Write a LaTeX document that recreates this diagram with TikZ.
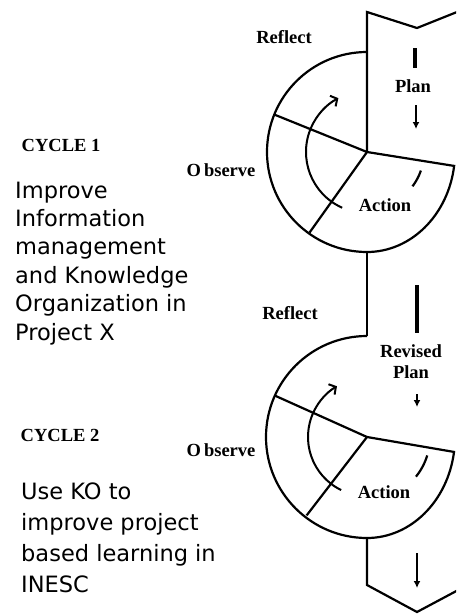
\documentclass[tikz,border=0pt]{standalone}
\usepackage{fontspec}
\setmainfont{Liberation Serif}
\newfontfamily\goalfont{DejaVu Sans}
\usetikzlibrary{arrows.meta}

\begin{document}
\begin{tikzpicture}[
    x=1pt, y=1pt,
    line/.style={line width=2.2pt, black},
    bar/.style={line width=3.2pt, black},
    arrow/.style={-{Latex[length=7pt, width=7pt]}, line width=2.2pt},
    turn/.style={-{Straight Barb[length=5pt, width=12pt]}, line width=2pt},
    tag/.style={font=\fontsize{18.5}{21}\selectfont\bfseries, inner sep=0pt, align=center},
    goal/.style={font=\goalfont\fontsize{22.5}{28.4}\selectfont, align=left, anchor=north west, inner sep=0pt},
]
    \useasboundingbox (0,0) rectangle (456,-614);
    \clip (0,0) rectangle (456,-614);

    % band and its two ends
    \coordinate (c1) at (367,-152);
    \coordinate (c2) at (367,-437);
    \coordinate (top) at (367,-12);
    \coordinate (notch1) at (417,-28);
    \coordinate (topr) at (462,-10);
    \coordinate (foot) at (367,-585);
    \coordinate (notch2) at (417,-612);
    \coordinate (footr) at (462,-588);

    \draw[line] (topr) -- (notch1) -- (top) -- (c1);
    \draw[line] (c2) ++(270:101) -- (foot) -- (notch2) -- (footr);

    % cycle 1
    \draw[line] (c1) ++(90:100) arc[start angle=90, end angle=270, radius=100]
        arc[start angle=270, end angle=352, x radius=88, y radius=100] -- (c1);
    \draw[line] (c1) -- ++(158:100);
    \draw[line] (c1) -- ++(234.5:99);
    \draw[turn] (c1) ++(246:61) arc[start angle=246, end angle=118, radius=61];
    \draw[line] (c1) ++(-37:57) arc[start angle=-37, end angle=-19, radius=57];
    \draw[line] (c1) ++(270:100) -- ([shift={(90:101)}]c2);

    % cycle 2
    \draw[line] (c2) ++(90:101) arc[start angle=90, end angle=270, radius=101]
        arc[start angle=270, end angle=351.5, x radius=88, y radius=101] -- (c2);
    \draw[line] (c2) -- ++(155.8:101);
    \draw[line] (c2) -- ++(232.4:99);
    \draw[turn] (c2) ++(244:59) arc[start angle=244, end angle=120.6, radius=59];
    \draw[line] (c2) ++(-39:63) arc[start angle=-39, end angle=-17, radius=63];

    % marks in the band
    \coordinate (bar1a) at (415,-48);
    \coordinate (bar1b) at (415,-68);
    \coordinate (down1a) at (416,-105);
    \coordinate (down1b) at (416,-129);
    \coordinate (bar2a) at (417,-285);
    \coordinate (bar2b) at (417,-333);
    \coordinate (down2a) at (417,-394);
    \coordinate (down2b) at (417,-407);
    \coordinate (down3a) at (417,-553);
    \coordinate (down3b) at (417,-588);
    \draw[bar] (bar1a) -- (bar1b);
    \draw[arrow] (down1a) -- (down1b);
    \draw[bar] (bar2a) -- (bar2b);
    \draw[arrow] (down2a) -- (down2b);
    \draw[arrow] (down3a) -- (down3b);

    % labels
    \node[tag] (reflect1) at (284,-37) {Reflect};
    \node[tag] (plan1) at (413,-86) {Plan};
    \node[tag] (observe1) at (221,-170) {O\,bserve};
    \node[tag] (action1) at (385,-205) {Action};
    \node[tag] (cycle1) at (61,-145) {CYCLE 1};

    \node[tag] (reflect2) at (290,-313) {Reflect};
    \node[tag] (plan2) at (411,-362) {Revised\\Plan};
    \node[tag] (observe2) at (221,-450) {O\,bserve};
    \node[tag] (action2) at (384,-492) {Action};
    \node[tag] (cycle2) at (60,-435) {CYCLE 2};

    \node[goal] (goal1) at (15,-181.5) {Improve\\Information\\management\\and Knowledge\\Organization in\\Project X};
    \node[goal, font=\goalfont\fontsize{22.5}{31}\selectfont] (goal2) at (21,-483) {Use KO to\\improve project\\based learning in\\INESC};
\end{tikzpicture}
\end{document}
